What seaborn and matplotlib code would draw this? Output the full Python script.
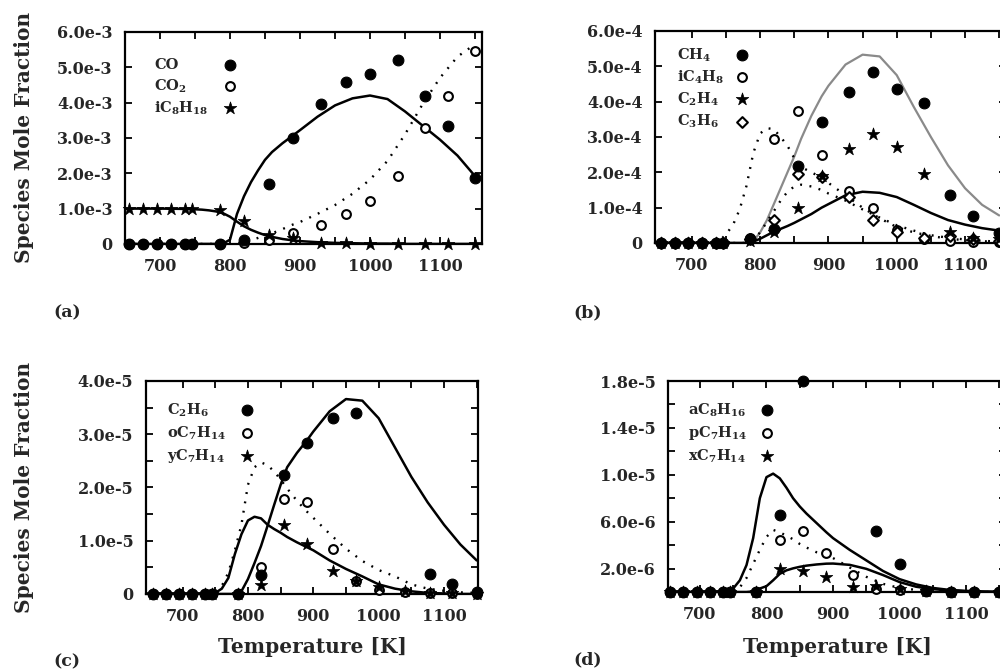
import numpy as np
import pandas as pd
import seaborn as sns
import matplotlib.pyplot as plt

sns.set_style('ticks')
plt.rcParams['font.family'] = ['DejaVu Serif']
plt.rcParams['font.weight'] = 'bold'
plt.rcParams['mathtext.fontset'] = 'dejavuserif'
plt.rcParams['mathtext.default'] = 'bf'

nan = np.nan

# experimental reactor temperatures [K]
T_exp = [655, 675, 695, 715, 735, 745, 785, 820, 855, 890, 930, 965, 1000, 1040, 1078, 1112, 1150]
# model temperatures [K]
T_mod = [650, 700, 740, 750, 760, 770, 780, 790, 800, 810, 820, 830, 840, 850,
         860, 875, 890, 900, 925, 950, 975, 1000, 1025, 1050, 1075, 1100, 1125, 1150]

# (a) x 1e-3
co_exp = [0, 0, 0, 0, 0, 0, 0, 0.12, 1.71, 3.0, 3.95, 4.57, 4.8, 5.2, 4.18, 3.35, 1.87]
co2_exp = [0, 0, 0, 0, 0, 0, 0, 0.03, 0.1, 0.31, 0.55, 0.84, 1.22, 1.92, 3.28, 4.2, 5.45]
ic8h18_exp = [1.0, 1.0, 1.0, 1.0, 1.0, 1.0, 0.95, 0.65, 0.26, 0.17, 0.03, 0.02, 0.01, 0.01, 0.01, 0.01, 0.01]
co_mod = [0, 0, 0, 0, 0, 0, 0, 0.01, 0.12, 0.85, 1.35, 1.75, 2.08, 2.38, 2.6, 2.85, 3.07,
          3.22, 3.6, 3.92, 4.12, 4.2, 4.1, 3.75, 3.35, 2.95, 2.5, 1.92]
co2_mod = [0, 0, 0, 0, 0, 0, 0, 0, 0, 0.02, 0.05, 0.1, 0.17, 0.24, 0.3, 0.42, 0.55,
           0.62, 0.85, 1.1, 1.42, 1.82, 2.35, 3.1, 3.95, 4.7, 5.3, 5.65]
ic8h18_mod = [1.0, 1.0, 0.99, 0.98, 0.97, 0.95, 0.92, 0.87, 0.77, 0.63, 0.5, 0.4, 0.32, 0.25,
              0.2, 0.14, 0.1, 0.08, 0.05, 0.03, 0.02, 0.01, 0.01, 0, 0, 0, 0, 0]

# (b) x 1e-4
ch4_exp = [0, 0, 0, 0, 0, 0, 0.12, 0.4, 2.18, 3.42, 4.28, 4.85, 4.37, 3.96, 1.37, 0.75, 0.28]
ic4h8_exp = [0, 0, 0, 0, 0, 0, 0.15, 2.94, 3.73, 2.5, 1.47, 1.0, 0.37, 0.12, 0.05, 0.03, 0.02]
c2h4_exp = [0, 0, 0, 0, 0, 0, 0.05, 0.3, 0.99, 1.9, 2.66, 3.09, 2.73, 1.94, 0.3, 0.15, 0.1]
c3h6_exp = [0, 0, 0, 0, 0, 0, 0.1, 0.66, 1.94, 1.88, 1.3, 0.66, 0.3, 0.14, 0.2, 0.1, 0.05]
ch4_mod = [0, 0, 0, 0, 0, 0, 0, 0.05, 0.3, 0.65, 1.1, 1.55, 2.0, 2.45, 2.95, 3.6, 4.15,
           4.45, 5.05, 5.33, 5.28, 4.75, 3.85, 3.0, 2.2, 1.55, 1.08, 0.78]
c2h4_mod = [0, 0, 0, 0, 0, 0, 0, 0.04, 0.12, 0.22, 0.32, 0.4, 0.48, 0.57, 0.67, 0.82, 1.0,
            1.1, 1.35, 1.45, 1.42, 1.3, 1.08, 0.85, 0.65, 0.52, 0.42, 0.35]
ic4h8_mod = [0, 0, 0.05, 0.25, 0.5, 0.95, 1.62, 2.55, 3.1, 3.25, 3.22, 3.0, 2.75, 2.4, 2.15,
             2.0, 1.85, 1.7, 1.35, 1.0, 0.7, 0.45, 0.3, 0.2, 0.12, 0.08, 0.05, 0.03]
c3h6_mod = [0, 0, 0, 0, 0, 0, 0, 0.1, 0.3, 0.6, 0.9, 1.2, 1.45, 1.6, 1.65, 1.6, 1.5,
            1.4, 1.2, 0.95, 0.72, 0.5, 0.35, 0.22, 0.15, 0.1, 0.06, 0.04]

# (c) x 1e-5
c2h6_exp = [0, 0, 0, 0, 0, 0, 0, 0.35, 2.23, 2.83, 3.3, 3.4, nan, nan, 0.38, 0.19, 0.03]
oc7h14_exp = [0, 0, 0, 0, 0, 0, 0, 0.5, 1.79, 1.73, 0.85, 0.25, 0.08, 0.03, 0.02, 0.01, 0]
yc7h14_exp = [0, 0, 0, 0, 0, 0, 0, 0.16, 1.29, 0.94, 0.44, 0.25, 0.13, 0.05, 0.02, 0.01, 0]
c2h6_mod = [0, 0, 0, 0, 0, 0, 0, 0.05, 0.28, 0.58, 0.9, 1.28, 1.67, 2.05, 2.38, 2.65, 2.88,
            3.05, 3.43, 3.66, 3.63, 3.3, 2.75, 2.2, 1.72, 1.3, 0.93, 0.63]
oc7h14_mod = [0, 0, 0, 0.05, 0.15, 0.4, 0.82, 1.3, 2.05, 2.38, 2.47, 2.42, 2.3, 2.15, 1.98,
              1.75, 1.55, 1.43, 1.13, 0.85, 0.62, 0.45, 0.33, 0.18, 0.1, 0.06, 0.03, 0.02]
yc7h14_mod = [0, 0, 0, 0.02, 0.1, 0.3, 0.75, 1.12, 1.38, 1.45, 1.42, 1.3, 1.22, 1.15, 1.07,
              0.97, 0.88, 0.82, 0.63, 0.47, 0.33, 0.18, 0.1, 0.05, 0.02, 0.01, 0, 0]

# (d) x 1e-6
ac8h16_exp = [0, 0, 0, 0, 0, 0, 0, 6.57, 18.0, nan, nan, 5.2, 2.43, 0.1, 0, 0, 0]
pc7h14_exp = [0, 0, 0, 0, 0, 0, 0, 4.43, 5.2, 3.29, 1.45, 0.3, 0.2, 0.05, 0, 0, 0]
xc7h14_exp = [0, 0, 0, 0, 0, 0, 0, 2.0, 1.8, 1.3, 0.45, 0.5, 0.29, 0.1, 0, 0, 0]
ac8h16_mod = [0, 0, 0.05, 0.3, 1.0, 2.3, 4.6, 8.0, 9.8, 10.1, 9.7, 8.9, 8.0, 7.3, 6.7,
              5.9, 5.1, 4.6, 3.6, 2.7, 1.8, 1.1, 0.65, 0.35, 0.18, 0.1, 0.05, 0.02]
pc7h14_mod = [0, 0, 0, 0.05, 0.4, 1.2, 2.4, 3.6, 4.7, 5.3, 5.1, 4.8, 4.5, 4.1, 3.8,
              3.4, 3.2, 2.9, 2.1, 1.3, 0.7, 0.35, 0.18, 0.08, 0.04, 0.02, 0, 0]
xc7h14_mod = [0, 0, 0, 0, 0, 0, 0.05, 0.3, 0.5, 1.0, 1.55, 1.85, 2.02, 2.15, 2.25, 2.35,
              2.42, 2.43, 2.32, 1.98, 1.45, 0.85, 0.45, 0.25, 0.13, 0.06, 0.02, 0]

x_ticks = [700, 750, 800, 850, 900, 950, 1000, 1050, 1100, 1150]
x_tick_labels = ['700', '', '800', '', '900', '', '1000', '', '1100', '']
ya_ticks = [0, 1, 2, 3, 4, 5, 6]
ya_labels = ['0', '1.0e-3', '2.0e-3', '3.0e-3', '4.0e-3', '5.0e-3', '6.0e-3']
yb_labels = ['0', '1.0e-4', '2.0e-4', '3.0e-4', '4.0e-4', '5.0e-4', '6.0e-4']
yc_ticks = [0, 0.5, 1, 1.5, 2, 2.5, 3, 3.5, 4]
yc_labels = ['0', '', '1.0e-5', '', '2.0e-5', '', '3.0e-5', '', '4.0e-5']
yd_ticks = [0, 2, 4, 6, 8, 10, 12, 14, 16, 18]
yd_labels = ['', '2.0e-6', '', '6.0e-6', '', '1.0e-5', '', '1.4e-5', '', '1.8e-5']

MK = {
    'filled': dict(marker='o', s=60, color='black', edgecolor='black', linewidth=0.8),
    'open': dict(marker='o', s=40, color='white', edgecolor='black', linewidth=1.5),
    'star': dict(marker='*', s=90, color='black', edgecolor='black', linewidth=0.5),
    'diamond': dict(marker='D', s=30, color='white', edgecolor='black', linewidth=1.5),
}
# filled dots end up on top, as in the scanned figure
ZORD = {'open': 3, 'diamond': 3.2, 'star': 3.5, 'filled': 4}
SOLID = dict(color='black', linewidth=1.8)
GREY = dict(color='#8a8a8a', linewidth=1.6)
DOTS = dict(color='black', linewidth=1.7, linestyle=(0, (0.8, 3.2)))

fig = plt.figure(figsize=(10, 6.72), dpi=100)
axa = fig.add_axes([0.125, 0.637, 0.357, 0.3155])
axb = fig.add_axes([0.655, 0.6384, 0.351, 0.3155])
axc = fig.add_axes([0.146, 0.1161, 0.332, 0.317])
axd = fig.add_axes([0.668, 0.119, 0.338, 0.314])


def curve(ax, vals, style):
    sns.lineplot(x=T_mod, y=vals, ax=ax, zorder=2, **style)


def points(ax, vals, kind):
    df = pd.DataFrame({'T': T_exp, 'x': vals}).dropna()
    sns.scatterplot(data=df, x='T', y='x', ax=ax, zorder=ZORD[kind], clip_on=False, **MK[kind])


def legend(ax, entries, x_text, x_mark, y0, dy):
    for i, (label, kind) in enumerate(entries):
        y = y0 - i * dy
        ax.text(x_text, y, label, transform=ax.transAxes, fontsize=10.5,
                ha='left', va='center')
        ax.scatter([x_mark], [y], transform=ax.transAxes, zorder=5, **MK[kind])


# panel (a)
curve(axa, co_mod, SOLID)
curve(axa, ic8h18_mod, SOLID)
curve(axa, co2_mod, DOTS)
points(axa, co_exp, 'filled')
points(axa, co2_exp, 'open')
points(axa, ic8h18_exp, 'star')
legend(axa, [('CO', 'filled'), ('CO$_2$', 'open'), ('iC$_8$H$_{18}$', 'star')],
       0.081, 0.294, 0.844, 0.101)

# panel (b)
curve(axb, ch4_mod, GREY)
curve(axb, c2h4_mod, SOLID)
curve(axb, ic4h8_mod, DOTS)
curve(axb, c3h6_mod, DOTS)
points(axb, ch4_exp, 'filled')
points(axb, ic4h8_exp, 'open')
points(axb, c2h4_exp, 'star')
points(axb, c3h6_exp, 'diamond')
legend(axb, [('CH$_4$', 'filled'), ('iC$_4$H$_8$', 'open'), ('C$_2$H$_4$', 'star'),
             ('C$_3$H$_6$', 'diamond')],
       0.063, 0.248, 0.887, 0.105)

# panel (c)
curve(axc, c2h6_mod, SOLID)
curve(axc, yc7h14_mod, SOLID)
curve(axc, oc7h14_mod, DOTS)
points(axc, c2h6_exp, 'filled')
points(axc, oc7h14_exp, 'open')
points(axc, yc7h14_exp, 'star')
legend(axc, [('C$_2$H$_6$', 'filled'), ('oC$_7$H$_{14}$', 'open'), ('yC$_7$H$_{14}$', 'star')],
       0.063, 0.304, 0.864, 0.108)

# panel (d)
curve(axd, ac8h16_mod, SOLID)
curve(axd, xc7h14_mod, SOLID)
curve(axd, pc7h14_mod, DOTS)
points(axd, ac8h16_exp, 'filled')
points(axd, pc7h14_exp, 'open')
points(axd, xc7h14_exp, 'star')
legend(axd, [('aC$_8$H$_{16}$', 'filled'), ('pC$_7$H$_{14}$', 'open'), ('xC$_7$H$_{14}$', 'star')],
       0.059, 0.293, 0.863, 0.11)

setup = [
    (axa, (650, 1160), (0, 6), ya_ticks, ya_labels),
    (axb, (646, 1160), (0, 6), ya_ticks, yb_labels),
    (axc, (644, 1152), (0, 4), yc_ticks, yc_labels),
    (axd, (652, 1160), (0, 18), yd_ticks, yd_labels),
]
for ax, xl, yl, yt, ytl in setup:
    ax.set_xlim(*xl)
    ax.set_ylim(*yl)
    ax.set_xticks(x_ticks)
    ax.set_xticklabels(x_tick_labels)
    ax.set_yticks(yt)
    ax.set_yticklabels(ytl)
    ax.set_xlabel('')
    ax.set_ylabel('')
    ax.tick_params(direction='in', top=True, right=True, length=5, width=1.3,
                   labelsize=11.5, color='black')
    ax.tick_params(axis='x', pad=10)
    ax.tick_params(axis='y', pad=9)
    for sp in ax.spines.values():
        sp.set_linewidth(1.6)
        sp.set_color('black')
    for lab in ax.get_xticklabels() + ax.get_yticklabels():
        lab.set_fontweight('bold')

for ax in (axa, axc):
    ax.set_ylabel('Species Mole Fraction', fontsize=14.5, fontweight='bold')
axa.yaxis.set_label_coords(-0.255, 0.5)
axc.yaxis.set_label_coords(-0.337, 0.5)

for ax, y in ((axc, -0.200), (axd, -0.211)):
    ax.set_xlabel('Temperature [K]', fontsize=14.5, fontweight='bold')
    ax.xaxis.set_label_coords(0.5, y)
    ax.xaxis.label.set_va('top')

for label, x, y in (('(a)', 0.053, 1 - 313 / 672), ('(b)', 0.573, 1 - 313 / 672),
                    ('(c)', 0.053, 1 - 662 / 672), ('(d)', 0.573, 1 - 660 / 672)):
    fig.text(x, y, label, fontsize=12.5, fontweight='bold', ha='left', va='center')

fig.savefig('out.png', dpi=100, facecolor='white')
